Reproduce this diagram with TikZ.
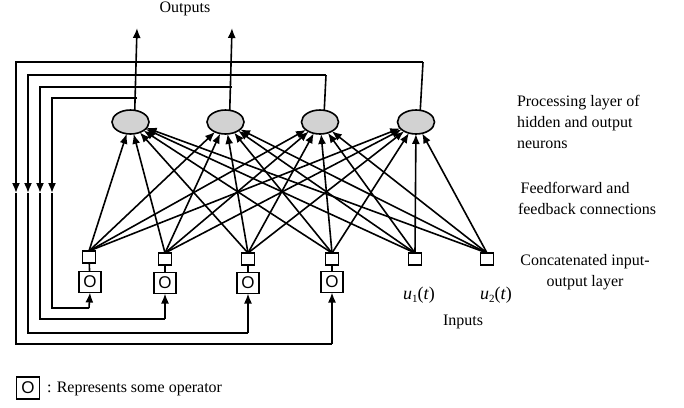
\documentclass[tikz,border=0pt]{standalone}
\usepackage{fontspec}
\setmainfont{Liberation Serif}
\newfontfamily\opfont{Liberation Sans}
\usetikzlibrary{arrows.meta,shapes.geometric}
\begin{document}
\begin{tikzpicture}[x=1pt,y=-1pt,
  every node/.style={inner sep=0pt,outer sep=0pt},
  wire/.style={line width=1.6pt},
  arr/.style={wire,-{Latex[length=10pt,width=8pt]}},
  neuron/.style={ellipse,draw,line width=1.6pt,fill=gray!35,minimum width=37pt,minimum height=24pt},
  unit/.style={rectangle,draw,line width=1.4pt,minimum width=13pt,minimum height=12pt},
  opbox/.style={rectangle,draw,line width=1.4pt,minimum width=22pt,minimum height=21pt,font=\opfont\fontsize{17}{17}\selectfont},
  lbl/.style={font=\fontsize{16}{21}\selectfont}]
\useasboundingbox (0,0) rectangle (684,407);
% neurons
\node[neuron] (n1) at (130.5,122) {};
\node[neuron] (n2) at (225.5,122) {};
\node[neuron] (n3) at (320,122) {};
\node[neuron] (n4) at (416,122) {};
% input-output layer units
\node[unit] (s1) at (89,257) {};
\node[unit] (s2) at (165,259) {};
\node[unit] (s3) at (248,259) {};
\node[unit] (s4) at (332,259) {};
\node[unit] (s5) at (415,259) {};
\node[unit] (s6) at (487,259) {};
% operators
\node[opbox] (o1) at (90,282) {O};
\node[opbox] (o2) at (165,283) {O};
\node[opbox] (o3) at (248,283) {O};
\node[opbox] (o4) at (332,282) {O};
\foreach \i in {1,...,4}{\draw[wire] (s\i) -- (o\i);}
% feedforward / feedback connections
\foreach \s in {1,...,6}{
  \foreach \n in {1,...,4}{
    \draw[arr] (s\s.north) -- (n\n);
  }
}
% outputs
\coordinate (t1) at (137,28);
\coordinate (t2) at (232,28);
\draw[arr] (n1.70) -- (t1);
\draw[arr] (n2.70) -- (t2);
\node[lbl] (outl) at (185,9) {Outputs};
% feedback loops
\coordinate (b1) at (137,98);  \coordinate (c1) at (52,98);  \coordinate (d1) at (52,193);  \coordinate (e1) at (52,308);  \coordinate (f1) at (89,308);
\coordinate (b2) at (232,87);  \coordinate (c2) at (40,87);  \coordinate (d2) at (40,193);  \coordinate (e2) at (40,319);  \coordinate (f2) at (165,319);
\coordinate (b3) at (326,75);  \coordinate (c3) at (28,75);  \coordinate (d3) at (28,193);  \coordinate (e3) at (28,333);  \coordinate (f3) at (248,333);
\coordinate (b4) at (423,62);  \coordinate (c4) at (16,62);  \coordinate (d4) at (16,193);  \coordinate (e4) at (16,344);  \coordinate (f4) at (332,344);
\draw[wire] (n3.70) -- (b3);
\draw[wire] (n4.70) -- (b4);
\foreach \i in {1,...,4}{
  \draw[arr] (b\i) -- (c\i) -- (d\i);
  \draw[wire] (d\i) -- (e\i) -- (f\i);
  \draw[arr] (f\i) -- (o\i.south);
}
% labels
\node[lbl,font=\fontsize{18}{21}\selectfont] (u1) at (419,295) {\textit{u}\raisebox{-3pt}{\fontsize{11}{11}\selectfont 1}(\textit{t})};
\node[lbl,font=\fontsize{18}{21}\selectfont] (u2) at (496,295) {\textit{u}\raisebox{-3pt}{\fontsize{11}{11}\selectfont 2}(\textit{t})};
\node[lbl] (inp) at (463,322) {Inputs};
\node[lbl,anchor=west,align=left] (proc) at (517,122) {Processing layer of\\hidden and output\\neurons};
\node[lbl,anchor=west,align=left] (ff) at (518,198) {\,Feedforward and\\feedback connections};
\node[lbl,align=center] (cat) at (585,272) {Concatenated input-\\output layer};
% legend
\node[opbox,minimum width=23pt,minimum height=22pt] (leg) at (28,388) {O};
\node[lbl,anchor=west] (legt) at (47,389) {: Represents some operator};
\end{tikzpicture}
\end{document}
